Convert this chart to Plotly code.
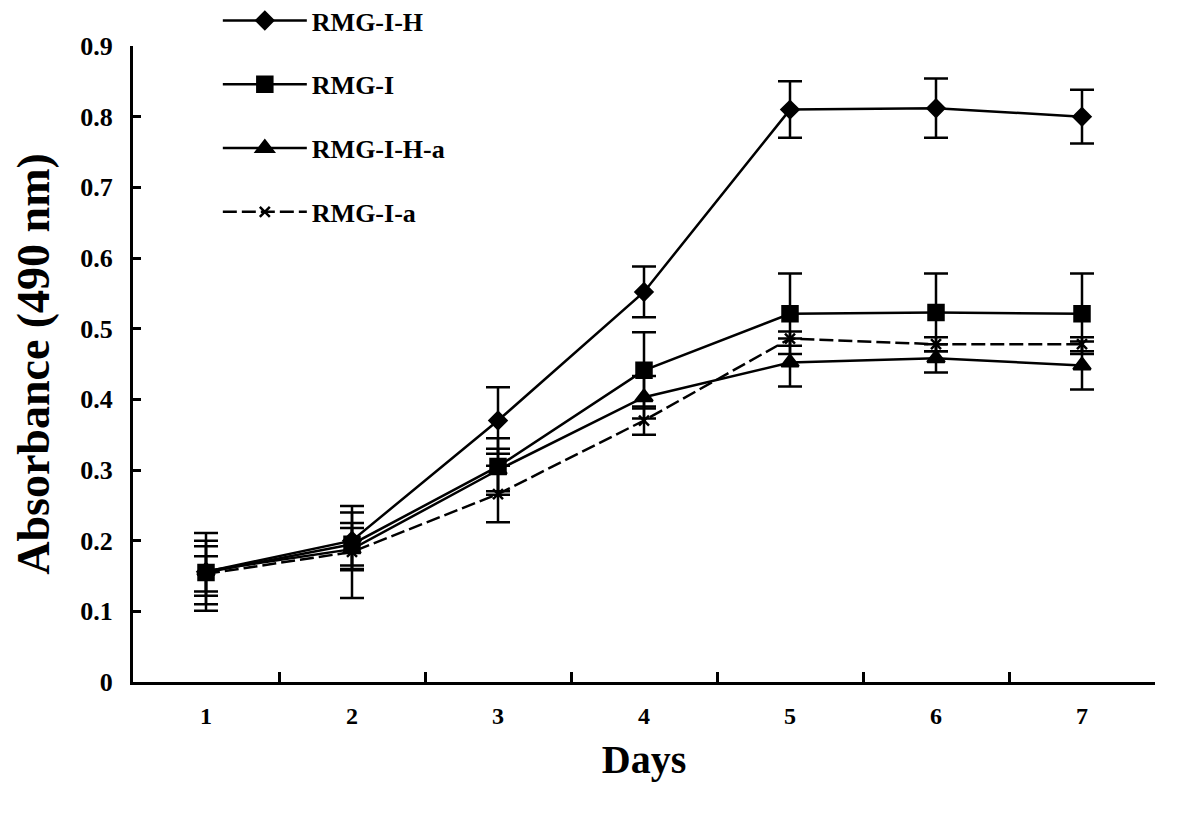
import plotly.graph_objects as go

days = ["1", "2", "3", "4", "5", "6", "7"]

series_names = ["RMG-I-H", "RMG-I", "RMG-I-H-a", "RMG-I-a"]

rmg_i_h = [0.156, 0.200, 0.370, 0.552, 0.810, 0.812, 0.800]
rmg_i_h_err = [0.055, 0.040, 0.047, 0.036, 0.040, 0.042, 0.038]

rmg_i = [0.155, 0.195, 0.305, 0.441, 0.521, 0.523, 0.521]
rmg_i_err = [0.045, 0.030, 0.040, 0.054, 0.057, 0.055, 0.057]

rmg_i_h_a = [0.157, 0.188, 0.300, 0.403, 0.452, 0.458, 0.448]
rmg_i_h_a_err = [0.035, 0.030, 0.030, 0.030, 0.034, 0.020, 0.034]

rmg_i_a = [0.153, 0.184, 0.266, 0.370, 0.486, 0.478, 0.478]
rmg_i_a_err = [0.025, 0.065, 0.040, 0.020, 0.010, 0.010, 0.010]

values = [rmg_i_h, rmg_i, rmg_i_h_a, rmg_i_a]
errors = [rmg_i_h_err, rmg_i_err, rmg_i_h_a_err, rmg_i_a_err]
symbols = ["diamond", "square", "triangle-up", "x-thin"]
dashes = ["solid", "solid", "solid", "14px,5px"]
sizes = [13, 15, 15, 10]

FONT = "Liberation Serif"

fig = go.Figure()
for i, name in enumerate(series_names):
    fig.add_trace(go.Scatter(
        x=days, y=values[i], name=name, mode="lines+markers",
        legendgroup=name,
        line=dict(color="black", width=2.5, dash=dashes[i]),
        marker=dict(symbol=symbols[i], size=sizes[i], color="black",
                    line=dict(color="black", width=2.5)),
        error_y=dict(type="data", array=errors[i], visible=True,
                     color="black", thickness=2.5, width=12),
    ))

fig.update_layout(
    width=1200, height=818,
    paper_bgcolor="white", plot_bgcolor="white",
    margin=dict(l=125, r=53, t=38, b=144, autoexpand=False),
    font=dict(family=FONT, size=22, color="black"),
    showlegend=True,
    legend=dict(
        x=0.083, y=1.077, xanchor="left", yanchor="top",
        bgcolor="rgba(0,0,0,0)",
        font=dict(family=FONT, size=26, color="black", weight="bold"),
        tracegroupgap=27, traceorder="grouped",
        itemwidth=84,
    ),
)
fig.update_xaxes(
    type="category", range=[-0.5, 6.5], tickson="boundaries",
    showline=True, linecolor="black", linewidth=3,
    ticks="inside", ticklen=10, tickwidth=2.5, tickcolor="black",
    showgrid=False, zeroline=False, ticklabelstandoff=10,
    tickfont=dict(family=FONT, size=24, color="black", weight="bold"),
    title=dict(text="Days", standoff=18,
               font=dict(family=FONT, size=40, color="black", weight="bold")),
)
fig.update_yaxes(
    range=[0, 0.9],
    tickvals=[0, 0.1, 0.2, 0.3, 0.4, 0.5, 0.6, 0.7, 0.8, 0.9],
    ticktext=["0", "0.1", "0.2", "0.3", "0.4", "0.5", "0.6", "0.7", "0.8", "0.9"],
    showline=True, linecolor="black", linewidth=3,
    ticks="inside", ticklen=8, tickwidth=2.5, tickcolor="black",
    showgrid=False, zeroline=False, ticklabelstandoff=12,
    tickfont=dict(family=FONT, size=26, color="black", weight="bold"),
    title=dict(text="Absorbance (490 nm)", standoff=46,
               font=dict(family=FONT, size=46, color="black", weight="bold")),
)

fig.write_html("out.html")
